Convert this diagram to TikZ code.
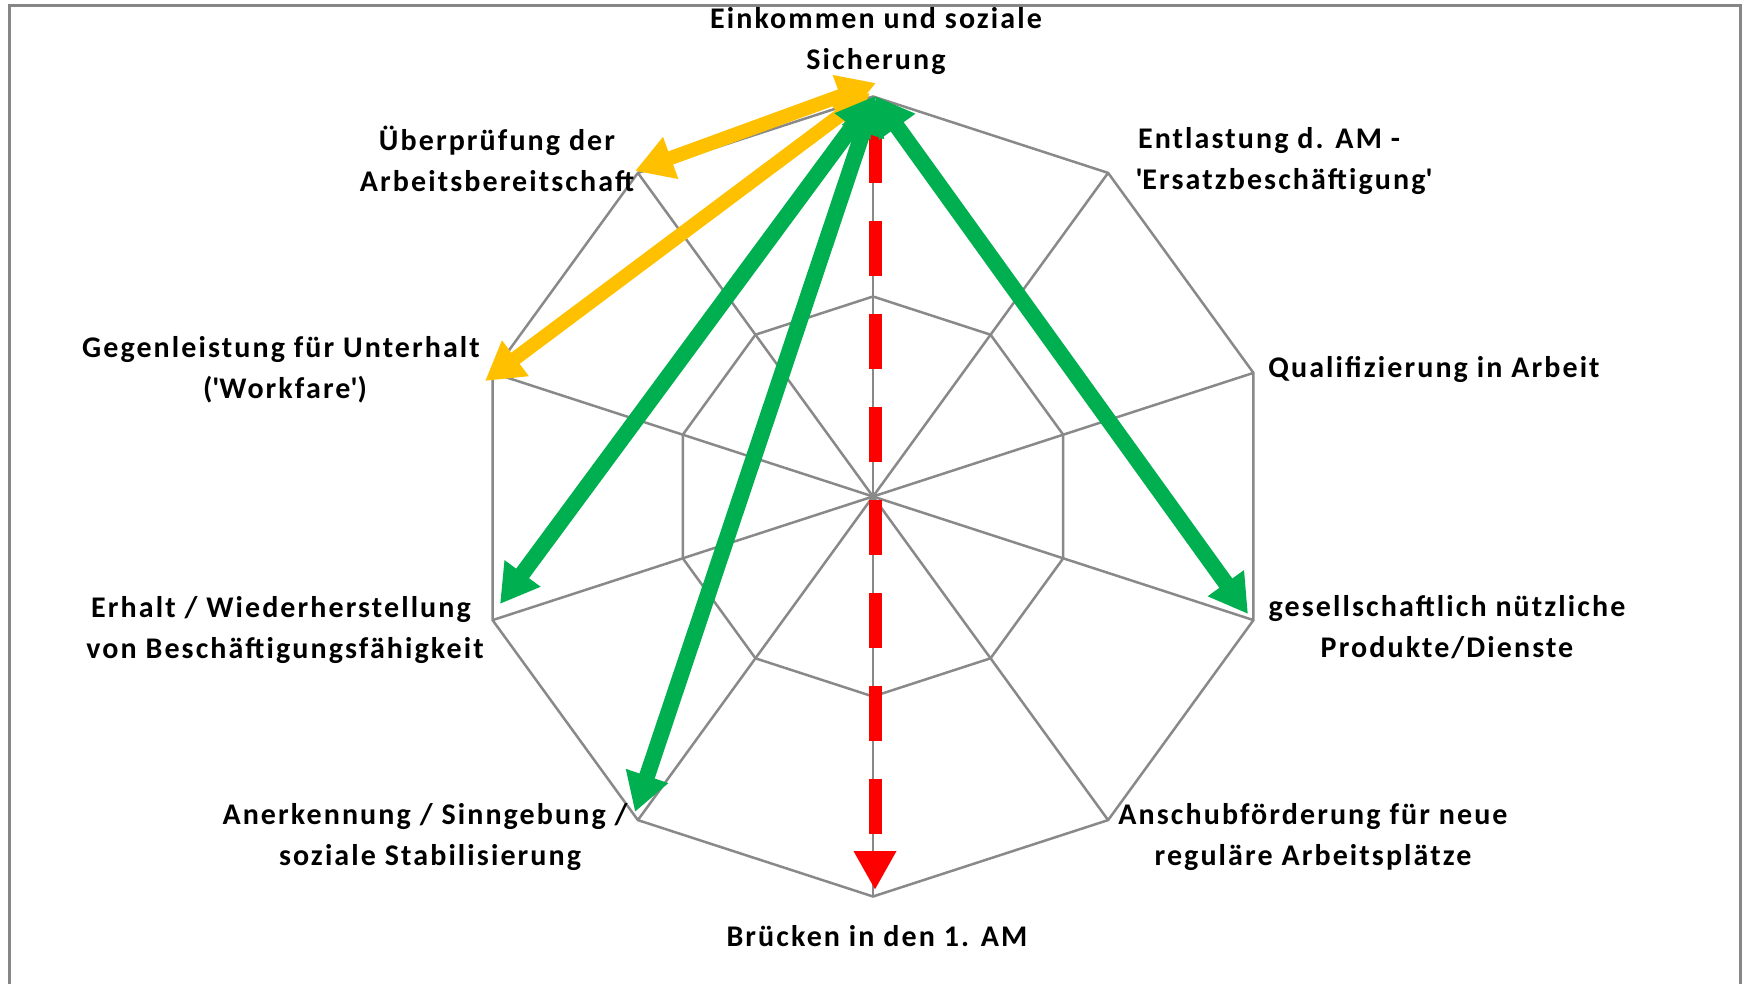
\documentclass[tikz,border=0pt]{standalone}
\usepackage{fontspec}
\setmainfont{Carlito}
\newfontfamily\lblfont{Carlito}[LetterSpace=7]
\usetikzlibrary{arrows.meta}

\definecolor{gridgray}{RGB}{137,137,137}
\definecolor{framegray}{RGB}{134,134,134}
\definecolor{xlgreen}{RGB}{0,176,80}
\definecolor{xlyellow}{RGB}{255,192,0}
\definecolor{xlred}{RGB}{255,0,0}

\begin{document}
\begin{tikzpicture}[x=1pt,y=-1pt,
  frame/.style={draw=framegray,line width=3pt},
  web/.style={draw=gridgray,line width=2.5pt,line join=miter},
  lbl/.style={font=\lblfont\bfseries\fontsize{30}{41}\selectfont,align=center,anchor=base,inner sep=0pt},
  greenarrow/.style={draw=xlgreen,line width=16pt,{Triangle[length=38pt,width=42pt]}-{Triangle[length=38pt,width=42pt]}},
  yellowarrow/.style={draw=xlyellow,line width=14pt,{Triangle[length=38pt,width=42pt]}-{Triangle[length=38pt,width=42pt]}},
  redarrow/.style={draw=xlred,line width=13pt,dash pattern=on 55pt off 38pt,-{Triangle[length=39pt,width=40pt]}}
]
\useasboundingbox (0,0) rectangle (1745,984);
\clip (0,0) rectangle (1745,984);

% outer frame (open at the bottom edge)
\draw[frame] (9.5,1000) -- (9.5,6) -- (1740,6) -- (1740,1000);

% radar web: ten axes, outer and half-radius rings
\coordinate (C) at (873,496.5);
\foreach \i in {0,...,9}{
  \pgfmathsetmacro\ang{90-36*\i}
  \coordinate (v\i) at ({873+400*cos(\ang)},{496.5-400*sin(\ang)});
  \coordinate (w\i) at ({873+200*cos(\ang)},{496.5-200*sin(\ang)});
}
\draw[web] (v0) -- (v1) -- (v2) -- (v3) -- (v4) -- (v5) -- (v6) -- (v7) -- (v8) -- (v9) -- cycle;
\draw[web] (w0) -- (w1) -- (w2) -- (w3) -- (w4) -- (w5) -- (w6) -- (w7) -- (w8) -- (w9) -- cycle;
\foreach \i in {0,...,9}{\draw[web] (C) -- (v\i);}

% axis labels (anchored at the baseline of their last line)
\node[lbl] (l0) at (876,70) {Einkommen und soziale\\Sicherung};
\node[lbl] (l1) at (1284,190) {Entlastung d. AM -\hspace*{30pt}\\\textquotesingle Ersatzbeschäftigung\textquotesingle};
\node[lbl] (l2) at (1434,377) {Qualifizierung in Arbeit};
\node[lbl] (l3) at (1447,657) {gesellschaftlich nützliche\\Produkte/Dienste};
\node[lbl] (l4) at (1313,865) {Anschubförderung für neue\\reguläre Arbeitsplätze};
\node[lbl] (l5) at (877,946) {Brücken in den 1. AM};
\node[lbl] (l6) at (430,865) {Anerkennung / Sinngebung /\hspace*{10pt}\\soziale Stabilisierung};
\node[lbl] (l7) at (285,658) {Erhalt / Wiederherstellung\hspace*{8pt}\\von Beschäftigungsfähigkeit};
\node[lbl] (l8) at (285,398) {Gegenleistung für Unterhalt\hspace*{8pt}\\(\textquotesingle Workfare\textquotesingle)};
\node[lbl] (l9) at (497,192) {Überprüfung der\\Arbeitsbereitschaft};

% arrow end points
\coordinate (ytop1) at (876,83);
\coordinate (yend1) at (635,171);
\coordinate (ytop2) at (870,93);
\coordinate (yend2) at (485,381);
\coordinate (rtop) at (875,128);
\coordinate (rend) at (875,890);
\coordinate (gtop) at (875,96);
\coordinate (gend1) at (500,604);
\coordinate (gend2) at (635,812);
\coordinate (gend3) at (1248,614);

% arrows
\draw[yellowarrow] (ytop2) -- (yend2);
\draw[yellowarrow] (ytop1) -- (yend1);
\draw[redarrow] (rtop) -- (rend);
\draw[greenarrow] (gtop) -- (gend1);
\draw[greenarrow] (gtop) -- (gend2);
\draw[greenarrow] (gtop) -- (gend3);
\end{tikzpicture}
\end{document}
